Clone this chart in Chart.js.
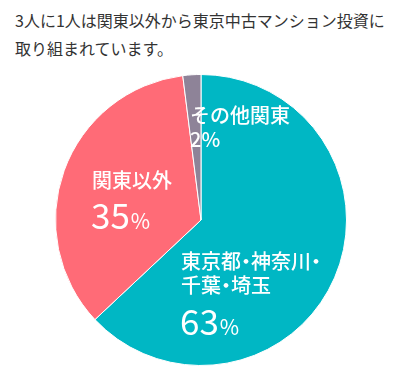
<!DOCTYPE html>
<html>
<head>
<meta charset="utf-8">
<script src="https://cdn.jsdelivr.net/npm/chart.js@4"></script>
<style>
  html, body { margin: 0; padding: 0; background: #fff; }
  body { width: 393px; height: 376px; position: relative; overflow: hidden; }
  #title {
    position: absolute; left: 15px; top: 6px;
    font-family: "Noto Sans CJK JP", sans-serif; font-size: 16px;
    line-height: 28px; color: #333;
  }
  #wrap { position: absolute; left: 55px; top: 74px; width: 292px; height: 292px; }
</style>
</head>
<body>
<div id="title">3人に1人は関東以外から東京中古マンション投資に<br>取り組まれています。</div>
<div id="wrap"><canvas id="pie" width="292" height="292"></canvas></div>
<script>
const labels = ["東京都・神奈川・千葉・埼玉", "関東以外", "その他関東"]
const values = [63, 35, 2]
const colors = ["#00b7c4", "#ff6b77", "#8e8398"]

// label text lines + offsets from the pie centre
const labelLines = [
  ["東京都・神奈川・", "千葉・埼玉"],
  ["関東以外"],
  ["その他関東"]
]
const labelPos = [
  { dx: -20, lines: [41, 65], num: 115, big: true },
  { dx: -109, lines: [-40], num: 9, big: true },
  { dx: -11, lines: [-105], num: -73, big: false }
]

const font = '"Noto Sans CJK JP", sans-serif'

// the middle dot is set half width, like the original
function drawLine(ctx, text, x, y, size) {
  for (const ch of text) {
    if (ch === '・') {
      ctx.textAlign = 'center'
      ctx.fillText(ch, x + size / 4, y)
      x += size / 2
    } else {
      ctx.textAlign = 'left'
      ctx.fillText(ch, x, y)
      x += ctx.measureText(ch).width
    }
  }
  ctx.textAlign = 'left'
}

const sliceLabels = {
  id: 'sliceLabels',
  afterDatasetsDraw(chart) {
    const ctx = chart.ctx
    const arc = chart.getDatasetMeta(0).data[0]
    const cx = arc.x, cy = arc.y
    ctx.save()
    ctx.fillStyle = '#fff'
    ctx.textAlign = 'left'
    for (let i = 0; i < values.length; i++) {
      const p = labelPos[i]
      const x = cx + p.dx
      ctx.font = '500 20px ' + font
      ctx.textBaseline = 'middle'
      labelLines[i].forEach((t, k) => drawLine(ctx, t, x, cy + p.lines[k], 20))
      ctx.textBaseline = 'alphabetic'
      if (p.big) {
        ctx.font = '35px ' + font
        const s = String(values[i])
        ctx.fillText(s, x - 1, cy + p.num)
        const w = ctx.measureText(s).width
        ctx.font = '21px ' + font
        ctx.fillText('%', x - 1 + w + 1, cy + p.num)
      } else {
        ctx.font = '500 20px ' + font
        ctx.fillText(values[i] + '%', x, cy + p.num)
      }
    }
    ctx.restore()
  }
}

new Chart(document.getElementById('pie'), {
  type: 'pie',
  data: {
    labels: labels,
    datasets: [{
      data: values,
      backgroundColor: colors,
      borderColor: '#fff',
      borderWidth: 1
    }]
  },
  options: {
    responsive: false,
    animation: false,
    layout: { padding: 0 },
    plugins: {
      legend: { display: false },
      tooltip: { enabled: false }
    }
  },
  plugins: [sliceLabels]
})
</script>
</body>
</html>
